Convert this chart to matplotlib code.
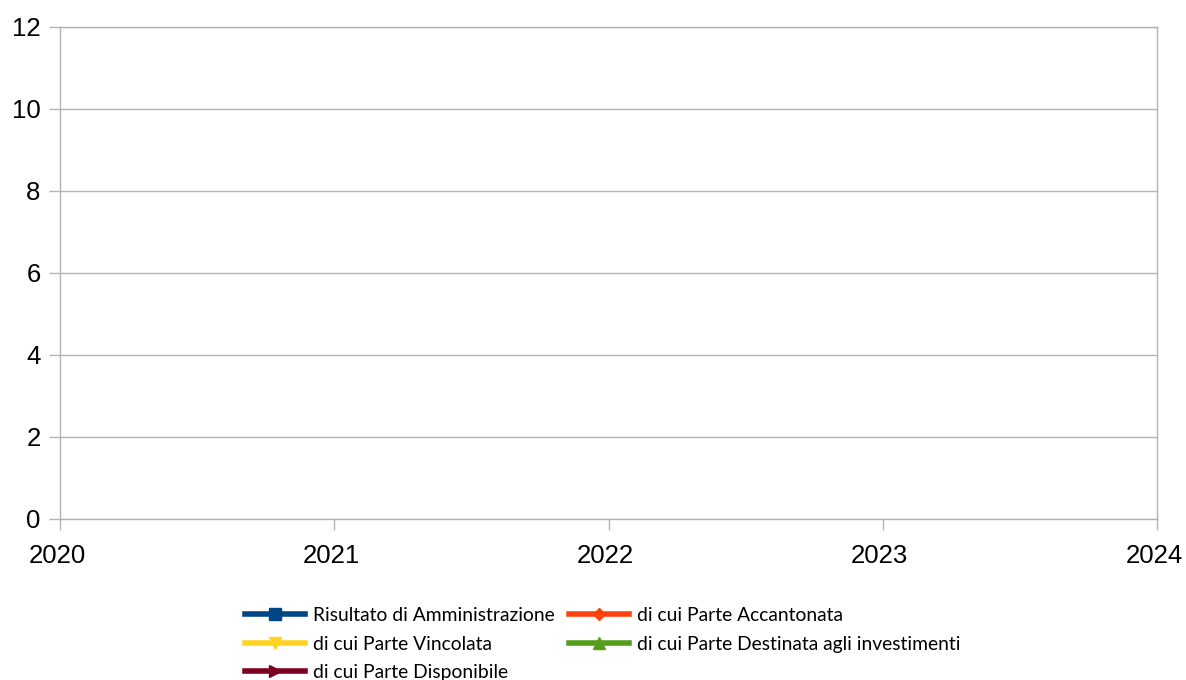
import numpy as np
import matplotlib
matplotlib.use('Agg')
import matplotlib.pyplot as plt
import matplotlib.transforms as mtransforms

years = [2020, 2021, 2022, 2023, 2024]

# no values reported in the chart: every series is empty
risultato = [np.nan, np.nan, np.nan, np.nan, np.nan]
accantonata = [np.nan, np.nan, np.nan, np.nan, np.nan]
vincolata = [np.nan, np.nan, np.nan, np.nan, np.nan]
destinata = [np.nan, np.nan, np.nan, np.nan, np.nan]
disponibile = [np.nan, np.nan, np.nan, np.nan, np.nan]

labels = ['Risultato di Amministrazione', 'di cui Parte Vincolata', 'di cui Parte Disponibile',
          'di cui Parte Accantonata', 'di cui Parte Destinata agli investimenti']
series = [risultato, vincolata, disponibile, accantonata, destinata]
colors = ['#004586', '#ffd320', '#7e0021', '#ff420e', '#579d1c']
markers = ['s', 'v', '>', 'D', '^']
msizes = [8, 8, 8, 6, 8]

plt.rcParams['font.family'] = ['Liberation Sans', 'DejaVu Sans']

fig = plt.figure(figsize=(11.86, 6.8), dpi=100)
ax = fig.add_axes([60 / 1186, 1 - 519 / 680, 1097 / 1186, 492 / 680])

handles = []
for vals, lab, c, m, ms in zip(series, labels, colors, markers, msizes):
    h, = ax.plot(years, vals, color=c, marker=m, markersize=ms, linewidth=4, label=lab)
    handles.append(h)

ax.set_xlim(2020, 2024)
ax.set_ylim(0, 12)
ax.set_xticks(years)
ax.set_yticks(range(0, 13, 2))
ax.grid(axis='y', color='#b3b3b3', linewidth=1)
for s in ax.spines.values():
    s.set_color('#b3b3b3')
    s.set_linewidth(1)
ax.tick_params(axis='x', colors='#b3b3b3', labelcolor='black', length=8, width=1, pad=10, labelsize=18.5)
ax.tick_params(axis='y', colors='#b3b3b3', labelcolor='black', length=8, width=1, pad=6, labelsize=18.5)
ax.set_axisbelow(True)

# year labels sit a little left of their ticks
shift = mtransforms.ScaledTranslation(-3 / 100, 0, fig.dpi_scale_trans)
for lbl in ax.get_xticklabels():
    lbl.set_transform(lbl.get_transform() + shift)

leg = fig.legend(handles=handles, labels=labels, ncol=2, loc='upper left',
                 bbox_to_anchor=(245 / 1186, 1 - 607 / 680), frameon=False,
                 prop={'family': 'Lato', 'size': 13.9}, handlelength=3.1,
                 handletextpad=0.4, columnspacing=0.78, labelspacing=0.6,
                 borderaxespad=0, borderpad=0)

fig.savefig('out.png', dpi=100)
